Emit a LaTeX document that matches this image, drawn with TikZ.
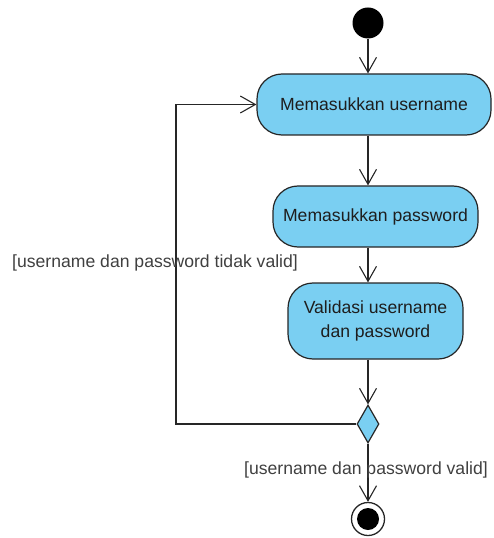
\documentclass[tikz,border=0pt]{standalone}
\usepackage{fontspec}
\setmainfont{Liberation Sans}
\usetikzlibrary{arrows.meta,shapes.geometric}
\definecolor{actfill}{RGB}{122,207,242}
\definecolor{txt}{RGB}{30,30,30}
\tikzset{
  actbox/.style={draw=black!85, line width=1.2bp, fill=actfill, rounded corners=25bp,
    inner sep=0pt, align=center, text=txt, font=\fontsize{17.6bp}{24bp}\selectfont},
  flow/.style={draw=black!85, line width=1.2bp, -{Straight Barb[length=15bp,width=17bp,line width=1.1bp]}},
  guard/.style={inner sep=0pt, text=txt!85, font=\fontsize{17.6bp}{20bp}\selectfont}
}
\begin{document}
\begin{tikzpicture}[x=1bp,y=-1bp]
\useasboundingbox (0,0) rectangle (494,538);
\node[circle, fill=black, minimum size=31bp, inner sep=0pt] (start) at (368,23) {};
\node[actbox, minimum width=234bp, minimum height=61bp] (b1) at (374,104.5) {Memasukkan username};
\node[actbox, minimum width=205bp, minimum height=61bp] (b2) at (375.5,216.5) {Memasukkan password};
\node[actbox, minimum width=175bp, minimum height=76bp] (b3) at (375.5,321) {Validasi username\\dan password};
\node[diamond, draw=black!85, line width=1.2bp, fill=actfill, minimum width=22bp, minimum height=38bp, inner sep=0pt, aspect=0.58] (dec) at (368,424) {};
\node[circle, draw=black!85, line width=1.3bp, minimum size=33bp, inner sep=0pt] (end) at (368,519) {};
\node[circle, fill=black, minimum size=22bp, inner sep=0pt] (endin) at (end.center) {};
\coordinate (lp) at (176,424);

\draw[flow] (start) -- (start |- b1.north);
\draw[flow] (b1.south -| start) -- (start |- b2.north);
\draw[flow] (b2.south -| start) -- (start |- b3.north);
\draw[flow] (b3.south -| start) -- (dec.north);
\draw[flow] (dec.south) -- (end.north);
\draw[flow] (dec.west) -- (lp) |- (b1.west);

\node[guard, anchor=west] (g1) at (12,263) {[username dan password tidak valid]};
\node[guard, anchor=east] (g2) at (488,470) {[username dan password valid]};
\end{tikzpicture}
\end{document}
